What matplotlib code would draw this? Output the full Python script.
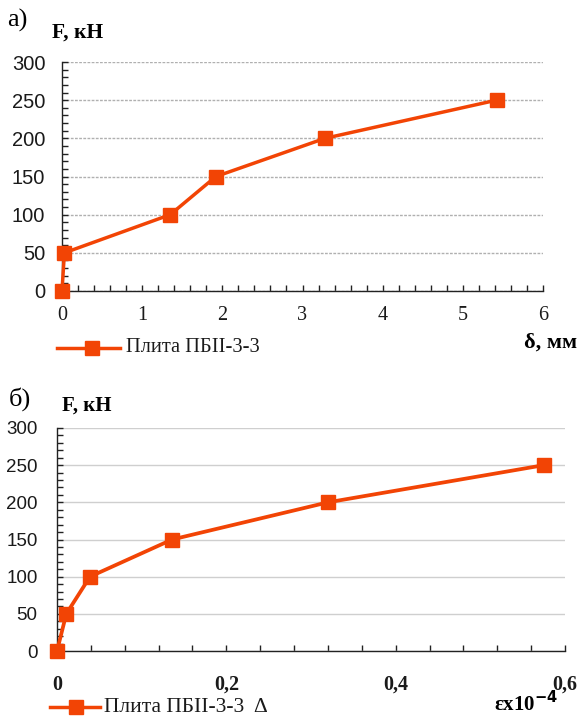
import matplotlib
matplotlib.use("Agg")
import matplotlib.pyplot as plt
from matplotlib.ticker import MultipleLocator, FuncFormatter
from matplotlib.lines import Line2D

# Panel a): load vs deflection
defl_mm = [0.0, 0.03, 1.35, 1.92, 3.28, 5.42]
load_a = [0, 50, 100, 150, 200, 250]

# Panel b): load vs relative strain (x10^-4)
strain = [0.0, 0.011, 0.039, 0.136, 0.320, 0.575]
load_b = [0, 50, 100, 150, 200, 250]

label_a = "Плита ПБII-3-3"
label_b = "Плита ПБII-3-3  Δ"

COLOR = "#F24405"
SERIF = "Liberation Serif"
SANS = "Liberation Sans"
TXT = "#1a1a1a"

fig = plt.figure(figsize=(5.78, 7.17), dpi=100)
W, H = 578, 717

def px_axes(l, t, r, b):
    return fig.add_axes([l / W, 1 - b / H, (r - l) / W, (b - t) / H])

def style_axes(ax, grid_ls, grid_color):
    for s in ("top", "right"):
        ax.spines[s].set_visible(False)
    for s in ("left", "bottom"):
        ax.spines[s].set_color("#222222")
        ax.spines[s].set_linewidth(1.0)
    ax.yaxis.set_major_locator(MultipleLocator(50))
    ax.yaxis.set_minor_locator(MultipleLocator(10))
    ax.grid(axis="y", which="major", linestyle=grid_ls, color=grid_color, linewidth=1.0)
    ax.set_axisbelow(True)
    ax.tick_params(which="both", direction="in", length=4, width=1.0, color="#222222")

# ---- panel a ----
ax1 = px_axes(62, 62, 543, 291)
style_axes(ax1, (0, (2, 1)), "#B0B0B0")
ax1.set_xlim(0, 6)
ax1.set_ylim(0, 300)
ax1.xaxis.set_major_locator(MultipleLocator(1))
ax1.xaxis.set_minor_locator(MultipleLocator(0.2))
ax1.plot(defl_mm, load_a, color=COLOR, lw=2.5, marker="s", ms=9.5,
         mec=COLOR, mfc=COLOR, clip_on=False, zorder=5)
ax1.tick_params(axis="y", pad=12)
ax1.tick_params(axis="x", pad=11)
for t in ax1.get_yticklabels():
    t.set_fontfamily(SANS); t.set_fontsize(14.5); t.set_color(TXT)
for t in ax1.get_xticklabels():
    t.set_fontfamily(SERIF); t.set_fontsize(14.5); t.set_color(TXT)

fig.text(7 / W, 1 - 20 / H, "а)", fontfamily=SERIF, fontsize=19, va="center", ha="left")
fig.text(52 / W, 1 - 33 / H, "F, кН", fontfamily=SERIF, fontsize=15.5, fontweight="bold",
         va="center", ha="left")
fig.text(577 / W, 1 - 343 / H, "δ, мм", fontfamily=SERIF, fontsize=16, fontweight="bold",
         va="center", ha="right")
fig.add_artist(Line2D([57 / W, 120 / W], [1 - 348 / H, 1 - 348 / H], color=COLOR, lw=2.5,
                      transform=fig.transFigure))
fig.add_artist(Line2D([92 / W], [1 - 348 / H], color=COLOR, marker="s", ms=9.5,
                      transform=fig.transFigure))
fig.text(126 / W, 1 - 348 / H, label_a, fontfamily=SERIF, fontsize=14.8, va="center", ha="left",
         color=TXT)

# ---- panel b ----
ax2 = px_axes(57, 428, 565, 651)
style_axes(ax2, "-", "#CFCFCF")
ax2.set_xlim(0, 0.6)
ax2.set_ylim(0, 300)
ax2.xaxis.set_major_locator(MultipleLocator(0.2))
ax2.xaxis.set_minor_locator(MultipleLocator(0.04))
ax2.xaxis.set_major_formatter(FuncFormatter(lambda v, p: ("%g" % round(v, 2)).replace(".", ",")))
ax2.plot(strain, load_b, color=COLOR, lw=2.7, marker="s", ms=9.5,
         mec=COLOR, mfc=COLOR, clip_on=False, zorder=5)
ax2.tick_params(axis="y", pad=14)
ax2.tick_params(axis="x", pad=17)
for t in ax2.get_yticklabels():
    t.set_fontfamily(SANS); t.set_fontsize(13.5); t.set_color(TXT)
for t in ax2.get_xticklabels():
    t.set_fontfamily(SERIF); t.set_fontsize(14.5); t.set_fontweight("bold"); t.set_color(TXT)

fig.text(9 / W, 1 - 399 / H, "б)", fontfamily=SERIF, fontsize=19, va="center", ha="left")
fig.text(62 / W, 1 - 406 / H, "F, кН", fontfamily=SERIF, fontsize=15, fontweight="bold",
         va="center", ha="left")
fig.text(494 / W, 1 - 704 / H, "εx10$^{\\mathbf{-4}}$", fontfamily=SERIF, fontsize=15,
         fontweight="bold", va="center", ha="left")
fig.add_artist(Line2D([50 / W, 100 / W], [1 - 707 / H, 1 - 707 / H], color=COLOR, lw=2.5,
                      transform=fig.transFigure))
fig.add_artist(Line2D([76 / W], [1 - 707 / H], color=COLOR, marker="s", ms=9.5,
                      transform=fig.transFigure))
fig.text(104 / W, 1 - 707 / H, label_b, fontfamily=SERIF, fontsize=15.5, va="center", ha="left",
         color=TXT)

fig.savefig("out.png", dpi=100)
